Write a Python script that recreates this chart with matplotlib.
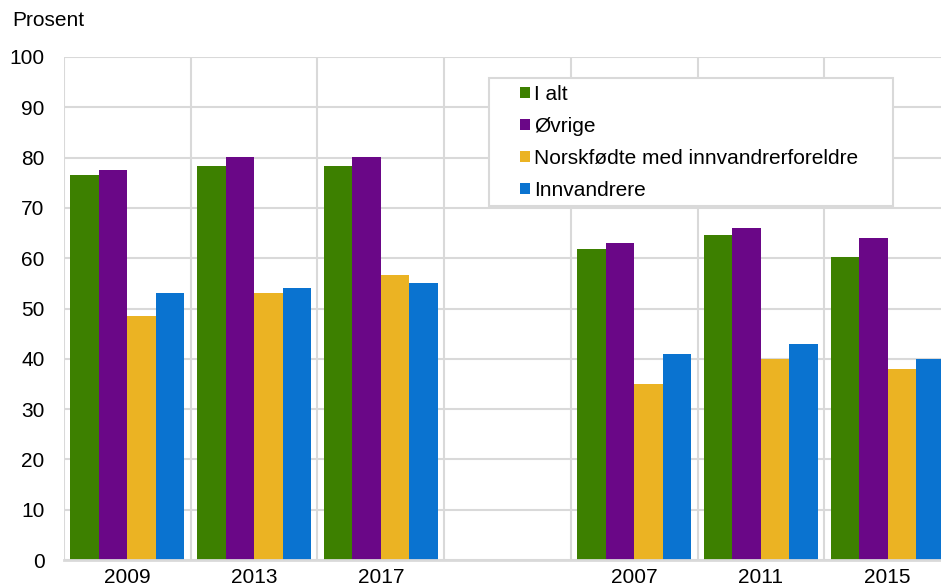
import numpy as np
import matplotlib
matplotlib.use('Agg')
import matplotlib.pyplot as plt
from matplotlib.patches import Rectangle

plt.rcParams['font.family'] = ['Liberation Sans', 'DejaVu Sans']
plt.rcParams['font.size'] = 15

# Data (blank slot separates the two groups)
categories = ['2009', '2013', '2017', '', '2007', '2011', '2015']
i_alt = [76.5, 78.3, 78.3, np.nan, 61.8, 64.6, 60.3]
ovrige = [77.6, 80.1, 80.1, np.nan, 63.1, 66.0, 64.1]
norskfodte = [48.5, 53.0, 56.6, np.nan, 35.0, 40.0, 38.0]
innvandrere = [53.0, 54.0, 55.1, np.nan, 41.0, 43.0, 40.0]

series_names = ['I alt', 'Øvrige', 'Norskfødte med innvandrerforeldre', 'Innvandrere']
series_vals = [i_alt, ovrige, norskfodte, innvandrere]
colors = ['#3d8000', '#6a0787', '#ebb323', '#0a73d0']

fig = plt.figure(figsize=(9.41, 5.85), dpi=100)
ax = fig.add_axes([64 / 941, 1 - 560 / 585, 887 / 941, 503 / 585])

x = np.arange(len(categories))
w = 0.225
for k, (name, vals, c) in enumerate(zip(series_names, series_vals, colors)):
    ax.bar(x + (k - 1.5) * w, vals, width=w, color=c, label=name, zorder=3)

ax.set_xlim(-0.5, len(categories) - 0.5)
ax.set_ylim(0, 100)
ax.set_yticks(range(0, 101, 10))
ax.set_xticks(x)
ax.set_xticklabels(categories)
ax.set_xticks(np.arange(-0.5, len(categories), 1), minor=True)

grid_c = '#d9d9d9'
ax.grid(True, axis='y', color=grid_c, linewidth=1.5, zorder=0)
ax.grid(True, axis='x', which='minor', color=grid_c, linewidth=1.5, zorder=0)
ax.grid(False, axis='x', which='major')
for s in ['top', 'right', 'left']:
    ax.spines[s].set_visible(False)
ax.spines['bottom'].set_color(grid_c)
ax.spines['bottom'].set_linewidth(2)
ax.spines['bottom'].set_zorder(4)
ax.tick_params(axis='both', which='both', length=0)
ax.tick_params(axis='y', pad=14)
ax.tick_params(axis='x', pad=6)

# legend frame drawn separately for wider left padding
ax.add_patch(Rectangle((489 / 941, 1 - 206 / 585), (893 - 489) / 941, 128 / 585,
                       transform=fig.transFigure, facecolor='white',
                       edgecolor=grid_c, linewidth=1.5, zorder=5, clip_on=False))
leg = ax.legend(loc='upper left', bbox_to_anchor=(520 / 941, 1 - 85 / 585),
                bbox_transform=fig.transFigure, frameon=False, borderpad=0,
                borderaxespad=0, handlelength=0.48, handleheight=0.48,
                handletextpad=0.2, labelspacing=0.62)
leg.set_zorder(6)

fig.text(12 / 941, 1 - 20 / 585, 'Prosent', va='center', ha='left')

fig.savefig('out.png', dpi=100)
